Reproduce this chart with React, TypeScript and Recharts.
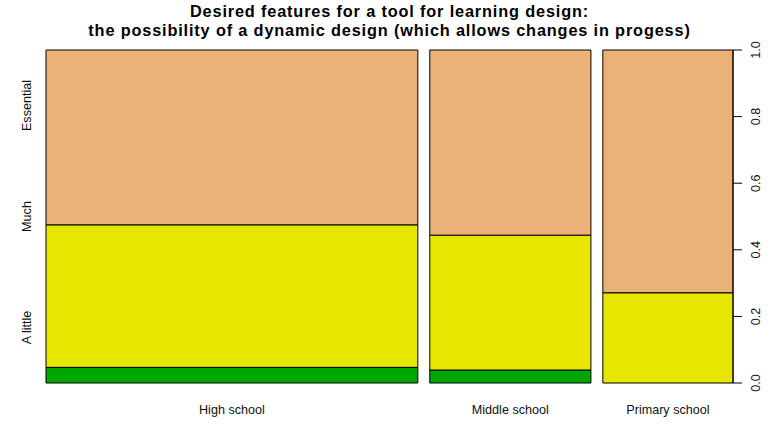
import { ComposedChart, XAxis, YAxis, ReferenceArea, Line } from 'recharts';

// spineplot: bar widths ~ respondents per school, segments = share per answer
const schools = ['High school', 'Middle school', 'Primary school'];
const respondents = [60, 26, 21];
const levels = ['A little', 'Much', 'Essential'];
const aLittle = [0.047, 0.039, 0];
const much = [0.428, 0.405, 0.271];
const essential = [0.525, 0.556, 0.729];
const yTicks = [0, 0.2, 0.4, 0.6, 0.8, 1];

const colors = ['#00A600', '#E6E600', '#ECB176'];
const GAP = 0.018;

const total = respondents.reduce((a, b) => a + b, 0);

// build cells from the arrays
const cells: { x1: number; x2: number; y1: number; y2: number; fill: string; key: string }[] = [];
const centers: number[] = [];
let start = 0;
schools.forEach((s, i) => {
  const w = respondents[i] / total;
  centers.push(start + w / 2);
  let bottom = 0;
  [aLittle[i], much[i], essential[i]].forEach((v, j) => {
    if (v > 0) {
      cells.push({ x1: start, x2: start + w, y1: bottom, y2: bottom + v, fill: colors[j], key: s + j });
    }
    bottom += v;
  });
  start += w + GAP;
});
const xMax = start - GAP;

const levelPos = levels.map((_, i) => (2 * i + 1) / (2 * levels.length));

const data = schools.map((s, i) => ({ name: s, x: centers[i], share: aLittle[i] }));

const font = '"Liberation Sans", Arial, sans-serif';

const RotTick = (props: any) => {
  const { x, y, payload, labels } = props;
  const txt = labels ? labels[levelPos.indexOf(payload.value)] : Number(payload.value).toFixed(1);
  return (
    <g transform={`translate(${x},${y}) rotate(-90)`}>
      <text textAnchor='middle' dy='0.35em' fontSize={12.6} fontFamily={font} fill='#111'>
        {txt}
      </text>
    </g>
  );
};

const App = () => {
  return (
    <div style={{ position: 'absolute', left: 0, top: 0, width: 776, height: 431, background: '#fff' }}>
      <div
        style={{
          position: 'absolute',
          left: 0,
          top: 2,
          width: 779,
          textAlign: 'center',
          fontFamily: font,
          fontWeight: 'bold',
          fontSize: 16.3,
          letterSpacing: 0.85,
          lineHeight: '19.4px',
          color: '#000',
        }}
      >
        Desired features for a tool for learning design:
        <br />
        the possibility of a dynamic design (which allows changes in progess)
      </div>
      <ComposedChart
        width={776}
        height={431}
        data={data}
        margin={{ top: 50, right: 0, bottom: 0, left: 0 }}
      >
        <XAxis
          type='number'
          dataKey='x'
          domain={[0, xMax]}
          ticks={centers}
          tickFormatter={(v: number) => schools[centers.indexOf(v)]}
          axisLine={false}
          tickLine={false}
          tickMargin={16}
          tick={{ fontSize: 12.6, fontFamily: font, fill: '#111' }}
          height={48}
          allowDataOverflow
        />
        <YAxis
          yAxisId='l'
          orientation='left'
          type='number'
          domain={[0, 1]}
          allowDataOverflow
          ticks={levelPos}
          width={46}
          axisLine={false}
          tickLine={false}
          tickSize={0}
          tickMargin={19}
          tick={(p: any) => <RotTick {...p} labels={levels} />}
        />
        <YAxis
          yAxisId='r'
          orientation='right'
          type='number'
          domain={[0, 1]}
          allowDataOverflow
          ticks={yTicks}
          width={43}
          axisLine={{ stroke: '#000' }}
          tickLine={{ stroke: '#000' }}
          tickSize={9}
          tickMargin={14}
          tick={(p: any) => <RotTick {...p} />}
        />
        {cells.map((c) => (
          <ReferenceArea
            key={c.key}
            yAxisId='r'
            x1={c.x1}
            x2={c.x2}
            y1={c.y1}
            y2={c.y2}
            fill={c.fill}
            fillOpacity={1}
            stroke='#000'
            strokeWidth={1}
            ifOverflow='visible'
          />
        ))}
        <Line yAxisId='l' dataKey='share' stroke='none' dot={false} activeDot={false} isAnimationActive={false} />
        <Line yAxisId='r' dataKey='share' stroke='none' dot={false} activeDot={false} isAnimationActive={false} />
      </ComposedChart>
    </div>
  );
};

export default App;
